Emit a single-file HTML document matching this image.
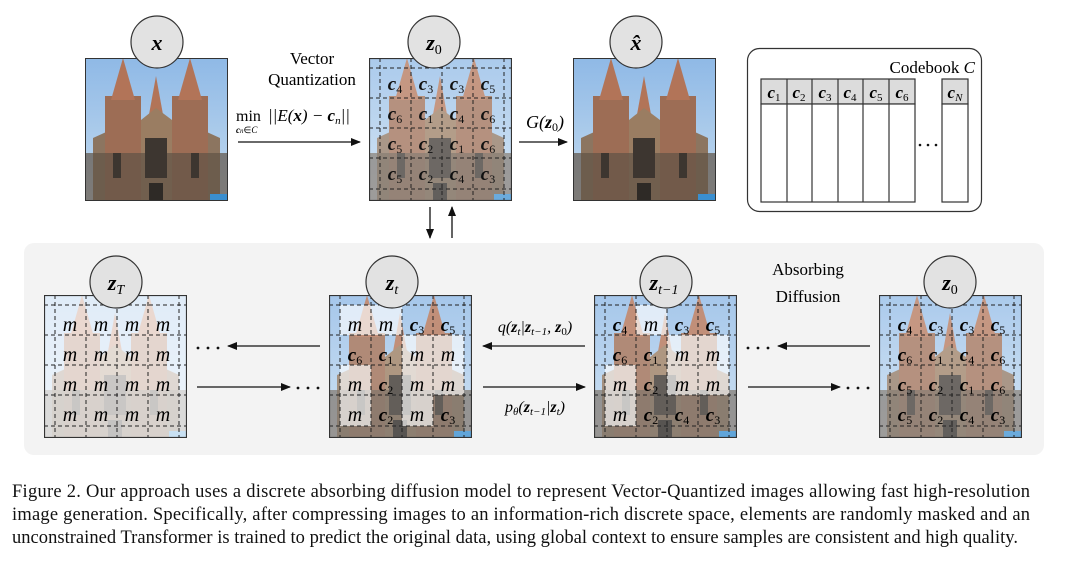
<!DOCTYPE html>
<html><head><meta charset="utf-8"><style>
html,body{margin:0;padding:0;background:#fff;width:1080px;height:564px;overflow:hidden}
svg{display:block}
.m{font-family:"Liberation Serif",serif;font-style:italic}
.b{font-weight:bold}
.r{font-family:"Liberation Serif",serif}
</style></head><body>
<svg width="1080" height="564" viewBox="0 0 1080 564" xmlns="http://www.w3.org/2000/svg">
<defs>
<linearGradient id="sky" x1="0" y1="0" x2="0" y2="1"><stop offset="0" stop-color="#8fb9e6"/><stop offset="1" stop-color="#c4dbef"/></linearGradient>
<symbol id="cat" viewBox="0 0 143 143" width="143" height="143">
<rect width="143" height="143" fill="url(#sky)"/>
<polygon points="8,143 8,80 30,70 113,70 135,80 135,143" fill="#8c7560"/>
<rect x="20" y="38" width="36" height="105" fill="#9d6d55"/>
<rect x="87" y="38" width="36" height="105" fill="#9d6d55"/>
<polygon points="38,0 26,42 50,42" fill="#b27458"/>
<polygon points="105,0 93,42 117,42" fill="#b27458"/>
<polygon points="71,18 63,62 79,62" fill="#b27458"/>
<polygon points="56,62 71,50 87,62 87,143 56,143" fill="#9a7d62"/>
<rect x="0" y="95" width="143" height="48" fill="#5f5246" opacity="0.7"/>
<rect x="60" y="80" width="22" height="40" fill="#3d3630"/>
<rect x="28" y="95" width="8" height="25" fill="#3d3630"/>
<rect x="106" y="95" width="8" height="25" fill="#3d3630"/>
<rect x="64" y="125" width="14" height="18" fill="#2e2a26"/>
<rect x="125" y="136" width="18" height="7" fill="#3a8fd0"/>
</symbol>
<symbol id="grid" viewBox="0 0 143 143" width="143" height="143">
<g stroke="#222" stroke-width="1" stroke-dasharray="4,3" fill="none">
<line x1="0" y1="10" x2="143" y2="10"/><line x1="0" y1="40" x2="143" y2="40"/><line x1="0" y1="70" x2="143" y2="70"/><line x1="0" y1="100" x2="143" y2="100"/><line x1="0" y1="131" x2="143" y2="131"/>
<line x1="11" y1="0" x2="11" y2="143"/><line x1="42" y1="0" x2="42" y2="143"/><line x1="73" y1="0" x2="73" y2="143"/><line x1="104" y1="0" x2="104" y2="143"/><line x1="135" y1="0" x2="135" y2="143"/>
</g>
<rect x="0.5" y="0.5" width="142" height="142" fill="none" stroke="#333" stroke-width="1.2"/>
</symbol>
<marker id="ah" markerWidth="10" markerHeight="8" refX="9" refY="4" orient="auto" markerUnits="userSpaceOnUse"><polygon points="0,0 10,4 0,8" fill="#111"/></marker>
</defs>

<use href="#cat" x="85" y="58"/>
<rect x="85.5" y="58.5" width="142" height="142" fill="none" stroke="#333"/>
<circle cx="157" cy="42" r="26" fill="#e2e2e2" stroke="#333" stroke-width="1.2"/>
<text x="157" y="50" text-anchor="middle" class="m b" font-size="22">x</text>

<text x="312" y="64" text-anchor="middle" class="r" font-size="17">Vector</text>
<text x="312" y="85" text-anchor="middle" class="r" font-size="17">Quantization</text>
<text x="236" y="121" class="r" font-size="16">min</text>
<text x="236" y="133" class="m b" font-size="9">c<tspan font-size="7" font-weight="normal">n</tspan><tspan font-style="normal" font-weight="normal">∈</tspan><tspan font-weight="normal">C</tspan></text>
<text x="268" y="121" class="m" font-size="17">||E(<tspan font-weight="bold">x</tspan>) − <tspan font-weight="bold">c</tspan><tspan font-size="11" dy="3">n</tspan><tspan dy="-3">||</tspan></text>
<line x1="238" y1="142" x2="360" y2="142" stroke="#111" stroke-width="1.3" marker-end="url(#ah)"/>

<use href="#cat" x="369" y="58"/>
<rect x="369" y="58" width="143" height="143" fill="#fff" opacity="0.25"/>
<use href="#grid" x="369" y="58"/>
<circle cx="434" cy="42" r="26" fill="#e2e2e2" stroke="#333" stroke-width="1.2"/>
<text x="434" y="50" text-anchor="middle" class="m b" font-size="22">z<tspan font-size="14" font-weight="normal" font-style="normal" dy="4">0</tspan></text>
<g class="m b" font-size="19" fill="#111" text-anchor="middle">
<g transform="translate(369,58)">
<text x="26" y="32">c<tspan font-size="12" font-weight="normal" font-style="normal" dy="3">4</tspan></text>
<text x="57" y="32">c<tspan font-size="12" font-weight="normal" font-style="normal" dy="3">3</tspan></text>
<text x="88" y="32">c<tspan font-size="12" font-weight="normal" font-style="normal" dy="3">3</tspan></text>
<text x="119" y="32">c<tspan font-size="12" font-weight="normal" font-style="normal" dy="3">5</tspan></text>
<text x="26" y="62">c<tspan font-size="12" font-weight="normal" font-style="normal" dy="3">6</tspan></text>
<text x="57" y="62">c<tspan font-size="12" font-weight="normal" font-style="normal" dy="3">1</tspan></text>
<text x="88" y="62">c<tspan font-size="12" font-weight="normal" font-style="normal" dy="3">4</tspan></text>
<text x="119" y="62">c<tspan font-size="12" font-weight="normal" font-style="normal" dy="3">6</tspan></text>
<text x="26" y="92">c<tspan font-size="12" font-weight="normal" font-style="normal" dy="3">5</tspan></text>
<text x="57" y="92">c<tspan font-size="12" font-weight="normal" font-style="normal" dy="3">2</tspan></text>
<text x="88" y="92">c<tspan font-size="12" font-weight="normal" font-style="normal" dy="3">1</tspan></text>
<text x="119" y="92">c<tspan font-size="12" font-weight="normal" font-style="normal" dy="3">6</tspan></text>
<text x="26" y="122">c<tspan font-size="12" font-weight="normal" font-style="normal" dy="3">5</tspan></text>
<text x="57" y="122">c<tspan font-size="12" font-weight="normal" font-style="normal" dy="3">2</tspan></text>
<text x="88" y="122">c<tspan font-size="12" font-weight="normal" font-style="normal" dy="3">4</tspan></text>
<text x="119" y="122">c<tspan font-size="12" font-weight="normal" font-style="normal" dy="3">3</tspan></text>
</g></g>

<text x="545" y="128" text-anchor="middle" class="m" font-size="18">G(<tspan font-weight="bold">z</tspan><tspan font-size="12" font-style="normal" dy="3">0</tspan><tspan dy="-3">)</tspan></text>
<line x1="519" y1="142" x2="567" y2="142" stroke="#111" stroke-width="1.3" marker-end="url(#ah)"/>

<use href="#cat" x="573" y="58"/>
<rect x="573.5" y="58.5" width="142" height="142" fill="none" stroke="#333"/>
<circle cx="636" cy="42" r="26" fill="#e2e2e2" stroke="#333" stroke-width="1.2"/>
<text x="636" y="50" text-anchor="middle" class="m b" font-size="22">x̂</text>

<line x1="430" y1="207" x2="430" y2="238" stroke="#111" stroke-width="1.3" marker-end="url(#ah)"/>
<line x1="452" y1="238" x2="452" y2="207" stroke="#111" stroke-width="1.3" marker-end="url(#ah)"/>

<rect x="747.5" y="48.5" width="234" height="163" rx="12" fill="#fff" stroke="#333" stroke-width="1.2"/>
<text x="975" y="73" text-anchor="end" class="r" font-size="17">Codebook <tspan font-style="italic">C</tspan></text>
<g stroke="#333" stroke-width="1.2">
<rect x="761" y="79" width="154" height="25" fill="#dcdcdc"/>
<rect x="761" y="104" width="154" height="98" fill="#fff"/>
<line x1="787" y1="79" x2="787" y2="202"/><line x1="812" y1="79" x2="812" y2="202"/><line x1="838" y1="79" x2="838" y2="202"/><line x1="863" y1="79" x2="863" y2="202"/><line x1="889" y1="79" x2="889" y2="202"/>
<rect x="942" y="79" width="26" height="25" fill="#dcdcdc"/>
<rect x="942" y="104" width="26" height="98" fill="#fff"/>
</g>
<g class="m b" font-size="17" text-anchor="middle">
<text x="774" y="98">c<tspan font-size="11" font-weight="normal" font-style="normal" dy="3">1</tspan></text>
<text x="799" y="98">c<tspan font-size="11" font-weight="normal" font-style="normal" dy="3">2</tspan></text>
<text x="825" y="98">c<tspan font-size="11" font-weight="normal" font-style="normal" dy="3">3</tspan></text>
<text x="850" y="98">c<tspan font-size="11" font-weight="normal" font-style="normal" dy="3">4</tspan></text>
<text x="876" y="98">c<tspan font-size="11" font-weight="normal" font-style="normal" dy="3">5</tspan></text>
<text x="902" y="98">c<tspan font-size="11" font-weight="normal" font-style="normal" dy="3">6</tspan></text>
<text x="955" y="98">c<tspan font-size="11" font-weight="normal" dy="3">N</tspan></text>
</g>
<g fill="#111"><circle cx="920" cy="145" r="1.3"/><circle cx="928" cy="145" r="1.3"/><circle cx="936" cy="145" r="1.3"/></g>

<rect x="24" y="243" width="1020" height="212" rx="10" fill="#f3f3f3"/>
<text x="808" y="275" text-anchor="middle" class="r" font-size="17">Absorbing</text>
<text x="808" y="302" text-anchor="middle" class="r" font-size="17">Diffusion</text>

<use href="#cat" x="44" y="295"/>
<rect x="44" y="295" width="143" height="143" fill="#fff" opacity="0.72"/>
<use href="#grid" x="44" y="295"/>
<circle cx="116" cy="282" r="26" fill="#e2e2e2" stroke="#333" stroke-width="1.2"/>
<text x="116" y="290" text-anchor="middle" class="m b" font-size="22">z<tspan font-size="14" font-weight="normal" dy="4">T</tspan></text>
<g class="m" font-size="20" text-anchor="middle" transform="translate(44,295)">
<text x="26" y="36">m</text><text x="57" y="36">m</text><text x="88" y="36">m</text><text x="119" y="36">m</text>
<text x="26" y="66">m</text><text x="57" y="66">m</text><text x="88" y="66">m</text><text x="119" y="66">m</text>
<text x="26" y="96">m</text><text x="57" y="96">m</text><text x="88" y="96">m</text><text x="119" y="96">m</text>
<text x="26" y="126">m</text><text x="57" y="126">m</text><text x="88" y="126">m</text><text x="119" y="126">m</text>
</g>

<line x1="320" y1="346" x2="228" y2="346" stroke="#111" stroke-width="1.3" marker-end="url(#ah)"/>
<g fill="#111"><circle cx="198" cy="348" r="1.4"/><circle cx="208" cy="348" r="1.4"/><circle cx="218" cy="348" r="1.4"/>
<circle cx="298" cy="388" r="1.4"/><circle cx="308" cy="388" r="1.4"/><circle cx="318" cy="388" r="1.4"/></g>
<line x1="197" y1="387" x2="290" y2="387" stroke="#111" stroke-width="1.3" marker-end="url(#ah)"/>

<use href="#cat" x="329" y="295"/>
<rect x="329" y="295" width="143" height="143" fill="#fff" opacity="0.2"/>
<g fill="#fff" opacity="0.65" transform="translate(329,295)">
<rect x="11" y="10" width="62" height="30"/>
<rect x="73" y="40" width="62" height="30"/>
<rect x="11" y="70" width="31" height="30"/><rect x="73" y="70" width="62" height="30"/>
<rect x="11" y="100" width="31" height="31"/><rect x="73" y="100" width="31" height="31"/>
</g>
<use href="#grid" x="329" y="295"/>
<circle cx="392" cy="282" r="26" fill="#e2e2e2" stroke="#333" stroke-width="1.2"/>
<text x="392" y="290" text-anchor="middle" class="m b" font-size="22">z<tspan font-size="14" font-weight="normal" dy="4">t</tspan></text>
<g class="m" font-size="20" text-anchor="middle" transform="translate(329,295)">
<text x="26" y="36">m</text><text x="57" y="36">m</text>
<text x="88" y="36" font-weight="bold" font-size="19">c<tspan font-size="12" font-weight="normal" font-style="normal" dy="3">3</tspan></text>
<text x="119" y="36" font-weight="bold" font-size="19">c<tspan font-size="12" font-weight="normal" font-style="normal" dy="3">5</tspan></text>
<text x="26" y="66" font-weight="bold" font-size="19">c<tspan font-size="12" font-weight="normal" font-style="normal" dy="3">6</tspan></text>
<text x="57" y="66" font-weight="bold" font-size="19">c<tspan font-size="12" font-weight="normal" font-style="normal" dy="3">1</tspan></text>
<text x="88" y="66">m</text><text x="119" y="66">m</text>
<text x="26" y="96">m</text>
<text x="57" y="96" font-weight="bold" font-size="19">c<tspan font-size="12" font-weight="normal" font-style="normal" dy="3">2</tspan></text>
<text x="88" y="96">m</text><text x="119" y="96">m</text>
<text x="26" y="126">m</text>
<text x="57" y="126" font-weight="bold" font-size="19">c<tspan font-size="12" font-weight="normal" font-style="normal" dy="3">2</tspan></text>
<text x="88" y="126">m</text>
<text x="119" y="126" font-weight="bold" font-size="19">c<tspan font-size="12" font-weight="normal" font-style="normal" dy="3">3</tspan></text>
</g>

<text x="535" y="332" text-anchor="middle" class="m" font-size="16">q(<tspan font-weight="bold">z</tspan><tspan font-size="11" dy="3">t</tspan><tspan dy="-3">|</tspan><tspan font-weight="bold">z</tspan><tspan font-size="11" dy="3">t−1</tspan><tspan dy="-3">, </tspan><tspan font-weight="bold">z</tspan><tspan font-size="11" font-style="normal" dy="3">0</tspan><tspan dy="-3">)</tspan></text>
<line x1="585" y1="346" x2="483" y2="346" stroke="#111" stroke-width="1.3" marker-end="url(#ah)"/>
<line x1="483" y1="387" x2="585" y2="387" stroke="#111" stroke-width="1.3" marker-end="url(#ah)"/>
<text x="535" y="412" text-anchor="middle" class="m" font-size="16">p<tspan font-size="11" dy="3">θ</tspan><tspan dy="-3">(</tspan><tspan font-weight="bold">z</tspan><tspan font-size="11" dy="3">t−1</tspan><tspan dy="-3">|</tspan><tspan font-weight="bold">z</tspan><tspan font-size="11" dy="3">t</tspan><tspan dy="-3">)</tspan></text>

<use href="#cat" x="594" y="295"/>
<rect x="594" y="295" width="143" height="143" fill="#fff" opacity="0.2"/>
<g fill="#fff" opacity="0.65" transform="translate(594,295)">
<rect x="42" y="10" width="31" height="30"/>
<rect x="73" y="40" width="62" height="30"/>
<rect x="11" y="70" width="31" height="30"/><rect x="73" y="70" width="62" height="30"/>
<rect x="11" y="100" width="31" height="31"/>
</g>
<use href="#grid" x="594" y="295"/>
<circle cx="666" cy="282" r="26" fill="#e2e2e2" stroke="#333" stroke-width="1.2"/>
<text x="664" y="290" text-anchor="middle" class="m b" font-size="22">z<tspan font-size="14" font-weight="normal" dy="4">t−1</tspan></text>
<g class="m" font-size="20" text-anchor="middle" transform="translate(594,295)">
<text x="26" y="36" font-weight="bold" font-size="19">c<tspan font-size="12" font-weight="normal" font-style="normal" dy="3">4</tspan></text>
<text x="57" y="36">m</text>
<text x="88" y="36" font-weight="bold" font-size="19">c<tspan font-size="12" font-weight="normal" font-style="normal" dy="3">3</tspan></text>
<text x="119" y="36" font-weight="bold" font-size="19">c<tspan font-size="12" font-weight="normal" font-style="normal" dy="3">5</tspan></text>
<text x="26" y="66" font-weight="bold" font-size="19">c<tspan font-size="12" font-weight="normal" font-style="normal" dy="3">6</tspan></text>
<text x="57" y="66" font-weight="bold" font-size="19">c<tspan font-size="12" font-weight="normal" font-style="normal" dy="3">1</tspan></text>
<text x="88" y="66">m</text><text x="119" y="66">m</text>
<text x="26" y="96">m</text>
<text x="57" y="96" font-weight="bold" font-size="19">c<tspan font-size="12" font-weight="normal" font-style="normal" dy="3">2</tspan></text>
<text x="88" y="96">m</text><text x="119" y="96">m</text>
<text x="26" y="126">m</text>
<text x="57" y="126" font-weight="bold" font-size="19">c<tspan font-size="12" font-weight="normal" font-style="normal" dy="3">2</tspan></text>
<text x="88" y="126" font-weight="bold" font-size="19">c<tspan font-size="12" font-weight="normal" font-style="normal" dy="3">4</tspan></text>
<text x="119" y="126" font-weight="bold" font-size="19">c<tspan font-size="12" font-weight="normal" font-style="normal" dy="3">3</tspan></text>
</g>

<line x1="870" y1="346" x2="778" y2="346" stroke="#111" stroke-width="1.3" marker-end="url(#ah)"/>
<line x1="748" y1="387" x2="840" y2="387" stroke="#111" stroke-width="1.3" marker-end="url(#ah)"/>
<g fill="#111"><circle cx="748" cy="348" r="1.4"/><circle cx="758" cy="348" r="1.4"/><circle cx="768" cy="348" r="1.4"/>
<circle cx="848" cy="388" r="1.4"/><circle cx="858" cy="388" r="1.4"/><circle cx="868" cy="388" r="1.4"/></g>

<use href="#cat" x="879" y="295"/>
<rect x="879" y="295" width="143" height="143" fill="#fff" opacity="0.25"/>
<use href="#grid" x="879" y="295"/>
<circle cx="950" cy="282" r="26" fill="#e2e2e2" stroke="#333" stroke-width="1.2"/>
<text x="950" y="290" text-anchor="middle" class="m b" font-size="22">z<tspan font-size="14" font-weight="normal" font-style="normal" dy="4">0</tspan></text>
<g class="m b" font-size="19" text-anchor="middle" transform="translate(879,295)">
<text x="26" y="36">c<tspan font-size="12" font-weight="normal" font-style="normal" dy="3">4</tspan></text>
<text x="57" y="36">c<tspan font-size="12" font-weight="normal" font-style="normal" dy="3">3</tspan></text>
<text x="88" y="36">c<tspan font-size="12" font-weight="normal" font-style="normal" dy="3">3</tspan></text>
<text x="119" y="36">c<tspan font-size="12" font-weight="normal" font-style="normal" dy="3">5</tspan></text>
<text x="26" y="66">c<tspan font-size="12" font-weight="normal" font-style="normal" dy="3">6</tspan></text>
<text x="57" y="66">c<tspan font-size="12" font-weight="normal" font-style="normal" dy="3">1</tspan></text>
<text x="88" y="66">c<tspan font-size="12" font-weight="normal" font-style="normal" dy="3">4</tspan></text>
<text x="119" y="66">c<tspan font-size="12" font-weight="normal" font-style="normal" dy="3">6</tspan></text>
<text x="26" y="96">c<tspan font-size="12" font-weight="normal" font-style="normal" dy="3">5</tspan></text>
<text x="57" y="96">c<tspan font-size="12" font-weight="normal" font-style="normal" dy="3">2</tspan></text>
<text x="88" y="96">c<tspan font-size="12" font-weight="normal" font-style="normal" dy="3">1</tspan></text>
<text x="119" y="96">c<tspan font-size="12" font-weight="normal" font-style="normal" dy="3">6</tspan></text>
<text x="26" y="126">c<tspan font-size="12" font-weight="normal" font-style="normal" dy="3">5</tspan></text>
<text x="57" y="126">c<tspan font-size="12" font-weight="normal" font-style="normal" dy="3">2</tspan></text>
<text x="88" y="126">c<tspan font-size="12" font-weight="normal" font-style="normal" dy="3">4</tspan></text>
<text x="119" y="126">c<tspan font-size="12" font-weight="normal" font-style="normal" dy="3">3</tspan></text>
</g>

<g class="r" font-size="18.5" fill="#111">
<text x="12" y="497" textLength="1018" lengthAdjust="spacing">Figure 2.  Our approach uses a discrete absorbing diffusion model to represent Vector-Quantized images allowing fast high-resolution</text>
<text x="12" y="520" textLength="1018" lengthAdjust="spacing">image generation.  Specifically, after compressing images to an information-rich discrete space, elements are randomly masked and an</text>
<text x="12" y="543" textLength="1006" lengthAdjust="spacing">unconstrained Transformer is trained to predict the original data, using global context to ensure samples are consistent and high quality.</text>
</g>
</svg>
</body></html>
